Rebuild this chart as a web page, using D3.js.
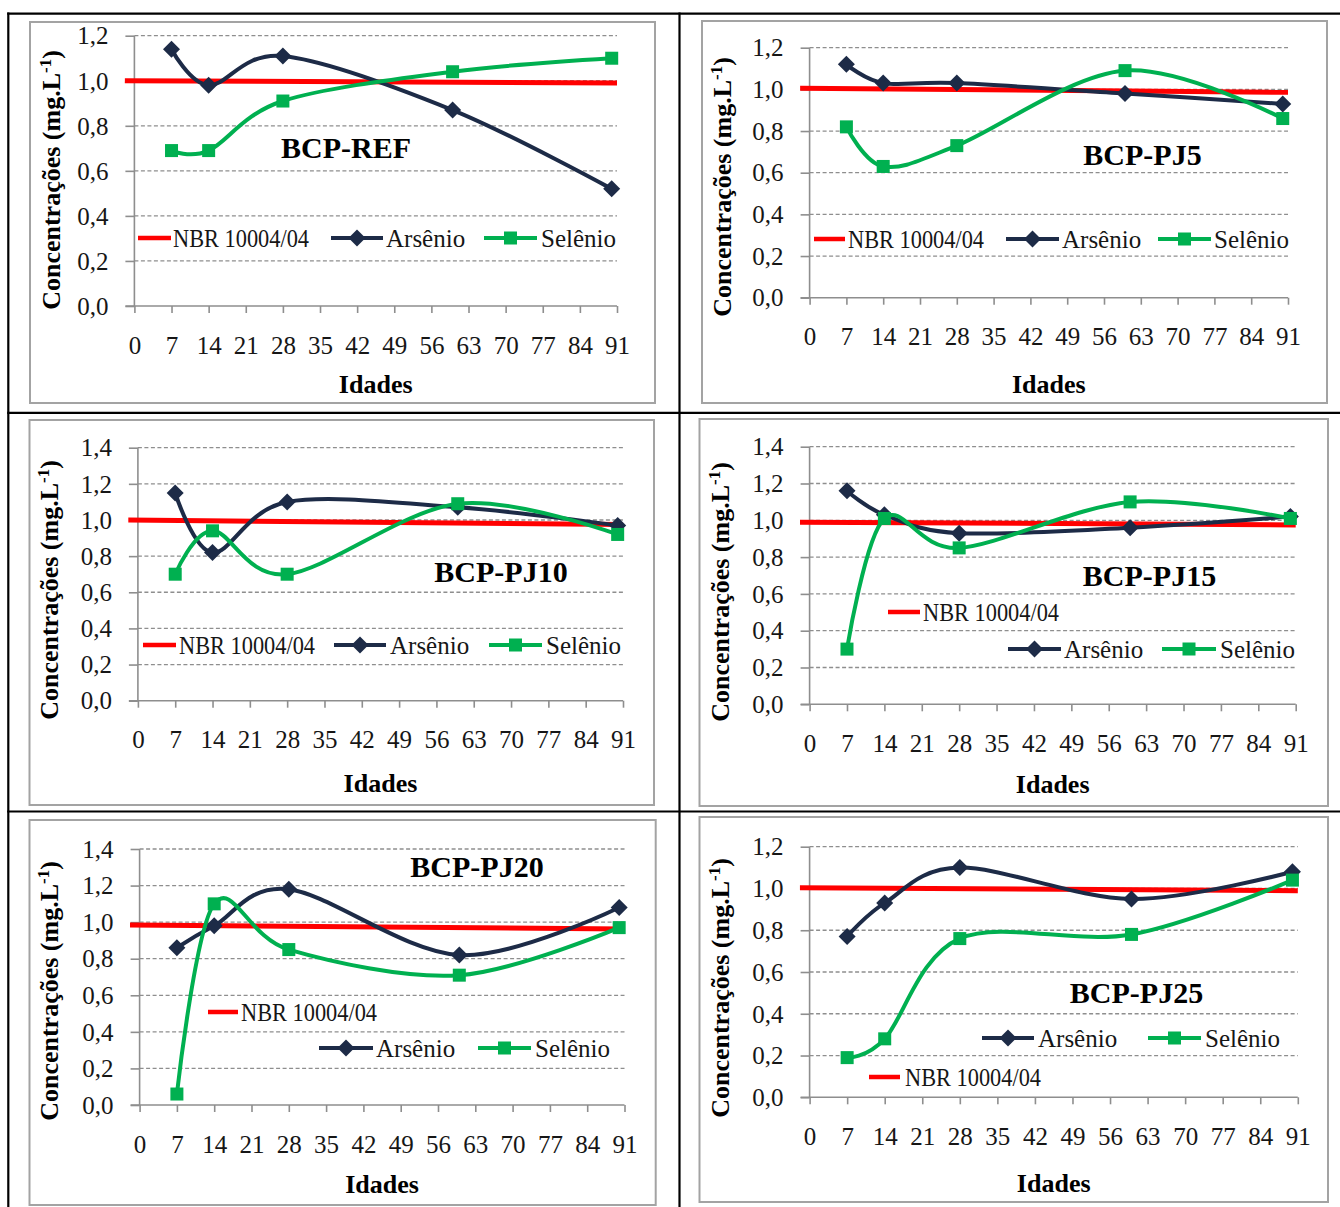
<!DOCTYPE html>
<html>
<head>
<meta charset="utf-8">
<script src="https://cdn.jsdelivr.net/npm/d3@7"></script>
<style>
  html, body { margin: 0; padding: 0; background: #fff; }
  svg { display: block; }
</style>
</head>
<body>
<svg id="fig" width="1340" height="1207"></svg>
<script>
// ---- data -------------------------------------------------------------
// sampling ages (days)
const ages = [7, 14, 28, 60, 90];
// x axis tick values (days)
const xTicks = [0, 7, 14, 21, 28, 35, 42, 49, 56, 63, 70, 77, 84, 91];
// y axis tick values
const yTicksLow = [0, 0.2, 0.4, 0.6, 0.8, 1.0, 1.2];
const yTicksHigh = [0, 0.2, 0.4, 0.6, 0.8, 1.0, 1.2, 1.4];
// mix names, one per panel
const mixes = ["BCP-REF", "BCP-PJ5", "BCP-PJ10", "BCP-PJ15", "BCP-PJ20", "BCP-PJ25"];
// arsenic concentration (mg/L) per mix, at each age
const arsenio = [
  [1.14, 0.98, 1.11, 0.87, 0.52],
  [1.12, 1.03, 1.03, 0.98, 0.93],
  [1.15, 0.82, 1.10, 1.07, 0.97],
  [1.16, 1.03, 0.93, 0.96, 1.02],
  [0.86, 0.98, 1.18, 0.82, 1.08],
  [0.77, 0.93, 1.10, 0.95, 1.08]
];
// selenium concentration (mg/L) per mix, at each age
const selenio = [
  [0.69, 0.69, 0.91, 1.04, 1.10],
  [0.82, 0.63, 0.73, 1.09, 0.86],
  [0.70, 0.94, 0.70, 1.09, 0.92],
  [0.30, 1.01, 0.85, 1.10, 1.01],
  [0.06, 1.10, 0.85, 0.71, 0.97],
  [0.19, 0.28, 0.76, 0.78, 1.04]
];
// NBR 10004/04 limit line, drawn end to end (ages and level per panel)
const nbrAges = [-1.8, 91];
const nbrLimit = [
  [1.00, 0.99],
  [1.005, 0.986],
  [1.00, 0.975],
  [0.99, 0.975],
  [0.985, 0.962],
  [1.003, 0.989]
];
const seriesNames = ["NBR 10004/04", "Arsênio", "Selênio"];

// ---- layout -----------------------------------------------------------
const panels = [
  { frame: [30, 22, 655, 403], xr: [134.4, 617], yr: [306, 35.7], ticks: yTicksLow,
    title: [346, 158], xlab: 393, ylab: [51, 180],
    legend: [[0, 138, 171, 238, 173], [1, 331, 383, 238, 386], [2, 484, 537, 238, 541]] },
  { frame: [702, 21, 1327, 403], xr: [809.6, 1288], yr: [297.7, 47.7], ticks: yTicksLow,
    title: [1142.5, 165], xlab: 393, ylab: [722, 187],
    legend: [[0, 814, 845, 239, 848], [1, 1006, 1059, 239, 1062], [2, 1158, 1211, 239, 1214]] },
  { frame: [29.5, 420, 654, 805], xr: [137.9, 623], yr: [700.7, 447.7], ticks: yTicksHigh,
    title: [501, 582], xlab: 792, ylab: [49, 590],
    legend: [[0, 143, 176, 645, 179], [1, 334, 386, 645, 390], [2, 489, 542, 645, 546]] },
  { frame: [699.5, 419, 1328, 806], xr: [809.6, 1295.7], yr: [704.3, 446.7], ticks: yTicksHigh,
    title: [1149.5, 586], xlab: 793, ylab: [720, 592],
    legend: [[0, 888, 920, 612, 923], [1, 1008, 1061, 649, 1064], [2, 1162, 1216, 649, 1220]] },
  { frame: [29.5, 820, 655.7, 1205], xr: [139.6, 624.5], yr: [1105, 849], ticks: yTicksHigh,
    title: [477, 877], xlab: 1193, ylab: [49, 991],
    legend: [[0, 208, 238, 1012, 241], [1, 319, 373, 1048, 376], [2, 478, 531, 1048, 535]] },
  { frame: [699.5, 817, 1328, 1202], xr: [809.6, 1297.8], yr: [1097.3, 846.7], ticks: yTicksLow,
    title: [1136.5, 1003], xlab: 1192, ylab: [720, 988],
    legend: [[1, 982, 1034, 1038, 1038], [2, 1148, 1201, 1038, 1205], [0, 869, 900, 1077, 905]] }
];

const serif = "'Liberation Serif', 'Times New Roman', serif";
const colNavy = "#1d2b47";
const colGreen = "#00b050";
const colRed = "#ff0000";
const colGrid = "#8e8e8e";
const colText = "#161616";

const svg = d3.select("#fig");

// ---- table rules ------------------------------------------------------
const rules = svg.append("g").attr("stroke", "#000").attr("stroke-width", 2.2);
rules.append("line").attr("x1", 8.3).attr("y1", 12.6).attr("x2", 8.3).attr("y2", 1207);
rules.append("line").attr("x1", 7.2).attr("y1", 13.7).attr("x2", 1340).attr("y2", 13.7);
rules.append("line").attr("x1", 679.5).attr("y1", 12.6).attr("x2", 679.5).attr("y2", 1207);
rules.append("line").attr("x1", 7.2).attr("y1", 412.8).attr("x2", 1340).attr("y2", 412.8);
rules.append("line").attr("x1", 7.2).attr("y1", 811.5).attr("x2", 1340).attr("y2", 811.5);

// ---- markers ----------------------------------------------------------
function drawMarker(g, kind, cx, cy) {
  if (kind === 1) {
    const r = 8.5;
    g.append("path")
      .attr("d", `M${cx},${cy - r}L${cx + r},${cy}L${cx},${cy + r}L${cx - r},${cy}Z`)
      .attr("fill", colNavy);
  } else if (kind === 2) {
    const s = 13;
    g.append("rect").attr("x", cx - s / 2).attr("y", cy - s / 2)
      .attr("width", s).attr("height", s).attr("fill", colGreen);
  }
}

// ---- panels -----------------------------------------------------------
panels.forEach((p, i) => {
  const g = svg.append("g");
  const [fx0, fy0, fx1, fy1] = p.frame;
  g.append("rect").attr("x", fx0).attr("y", fy0)
    .attr("width", fx1 - fx0).attr("height", fy1 - fy0)
    .attr("fill", "#fff").attr("stroke", "#a3a3a3").attr("stroke-width", 2);

  const yMax = d3.max(p.ticks);
  const x = d3.scaleLinear().domain([0, 91]).range(p.xr);
  const y = d3.scaleLinear().domain([0, yMax]).range(p.yr);

  // dashed gridlines
  g.append("g").selectAll("line").data(p.ticks.filter(t => t > 0)).join("line")
    .attr("x1", x(0)).attr("x2", x(91))
    .attr("y1", d => y(d)).attr("y2", d => y(d))
    .attr("stroke", colGrid).attr("stroke-width", 1.3)
    .attr("stroke-dasharray", "4,2.5");

  // y axis
  const yAxis = d3.axisLeft(y).tickValues(p.ticks).tickSize(9).tickPadding(17)
    .tickFormat(d => d3.format(".1f")(d).replace(".", ","));
  const ya = g.append("g").attr("transform", `translate(${x(0)},0)`).call(yAxis);
  ya.select(".domain").attr("stroke", colGrid).attr("stroke-width", 1.6)
    .attr("d", `M0,${y(0)}V${y(yMax)}`);
  ya.selectAll(".tick line").attr("stroke", colGrid).attr("stroke-width", 1.6);
  ya.selectAll(".tick text").attr("font-family", serif).attr("font-size", 25)
    .attr("fill", colText).attr("dy", "0.33em");

  // x axis
  const xAxis = d3.axisBottom(x).tickValues(xTicks).tickSize(7).tickPadding(23)
    .tickFormat(d3.format("d"));
  const xa = g.append("g").attr("transform", `translate(0,${y(0)})`).call(xAxis);
  xa.select(".domain").attr("stroke", colGrid).attr("stroke-width", 1.6)
    .attr("d", `M${x(0) - 9},0H${x(91)}`);
  xa.selectAll(".tick line").attr("stroke", colGrid).attr("stroke-width", 1.6);
  xa.selectAll(".tick text").attr("font-family", serif).attr("font-size", 25)
    .attr("fill", colText).attr("dy", "0.71em");

  // NBR limit
  const nbrPts = nbrAges.map((a, k) => [a, nbrLimit[i][k]]);
  g.append("path")
    .attr("d", d3.line().x(d => x(d[0])).y(d => y(d[1]))(nbrPts))
    .attr("fill", "none").attr("stroke", colRed).attr("stroke-width", 5);

  // smoothed series
  const smooth = d3.line().x(d => x(d[0])).y(d => y(d[1])).curve(d3.curveCatmullRom.alpha(0));
  const asPts = ages.map((a, k) => [a, arsenio[i][k]]);
  const sePts = ages.map((a, k) => [a, selenio[i][k]]);
  g.append("path").attr("d", smooth(asPts)).attr("fill", "none")
    .attr("stroke", colNavy).attr("stroke-width", 4).attr("stroke-linejoin", "round");
  asPts.forEach(d => drawMarker(g, 1, x(d[0]), y(d[1])));
  g.append("path").attr("d", smooth(sePts)).attr("fill", "none")
    .attr("stroke", colGreen).attr("stroke-width", 4).attr("stroke-linejoin", "round");
  sePts.forEach(d => drawMarker(g, 2, x(d[0]), y(d[1])));

  // mix name
  g.append("text").attr("x", p.title[0]).attr("y", p.title[1])
    .attr("text-anchor", "middle").attr("font-family", serif)
    .attr("font-weight", "bold").attr("font-size", 30).attr("fill", "#000")
    .text(mixes[i]);

  // axis titles
  g.append("text").attr("x", (p.xr[0] + p.xr[1]) / 2).attr("y", p.xlab)
    .attr("text-anchor", "middle").attr("font-family", serif)
    .attr("font-weight", "bold").attr("font-size", 26).attr("fill", "#000")
    .text("Idades");
  const yt = g.append("text")
    .attr("transform", `translate(${p.ylab[0]},${p.ylab[1]}) rotate(-90)`)
    .attr("text-anchor", "middle").attr("dy", "0.35em")
    .attr("font-family", serif).attr("font-weight", "bold").attr("font-size", 26)
    .attr("fill", "#000");
  yt.append("tspan").text("Concentrações (mg.L");
  yt.append("tspan").attr("baseline-shift", "super").attr("font-size", 17).text("-1");
  yt.append("tspan").text(")");

  // legend entries
  p.legend.forEach(([k, lx0, lx1, ly, tx]) => {
    const lg = g.append("g");
    lg.append("line").attr("x1", lx0).attr("x2", lx1).attr("y1", ly).attr("y2", ly)
      .attr("stroke", k === 0 ? colRed : k === 1 ? colNavy : colGreen)
      .attr("stroke-width", k === 0 ? 4.5 : 4);
    drawMarker(lg, k, (lx0 + lx1) / 2, ly);
    const t = lg.append("text").attr("x", tx).attr("y", ly).attr("dy", "0.34em")
      .attr("font-family", serif).attr("font-size", 25).attr("fill", colText)
      .text(seriesNames[k]);
    if (k === 0) t.attr("textLength", 136).attr("lengthAdjust", "spacingAndGlyphs");
  });
});
</script>
</body>
</html>
